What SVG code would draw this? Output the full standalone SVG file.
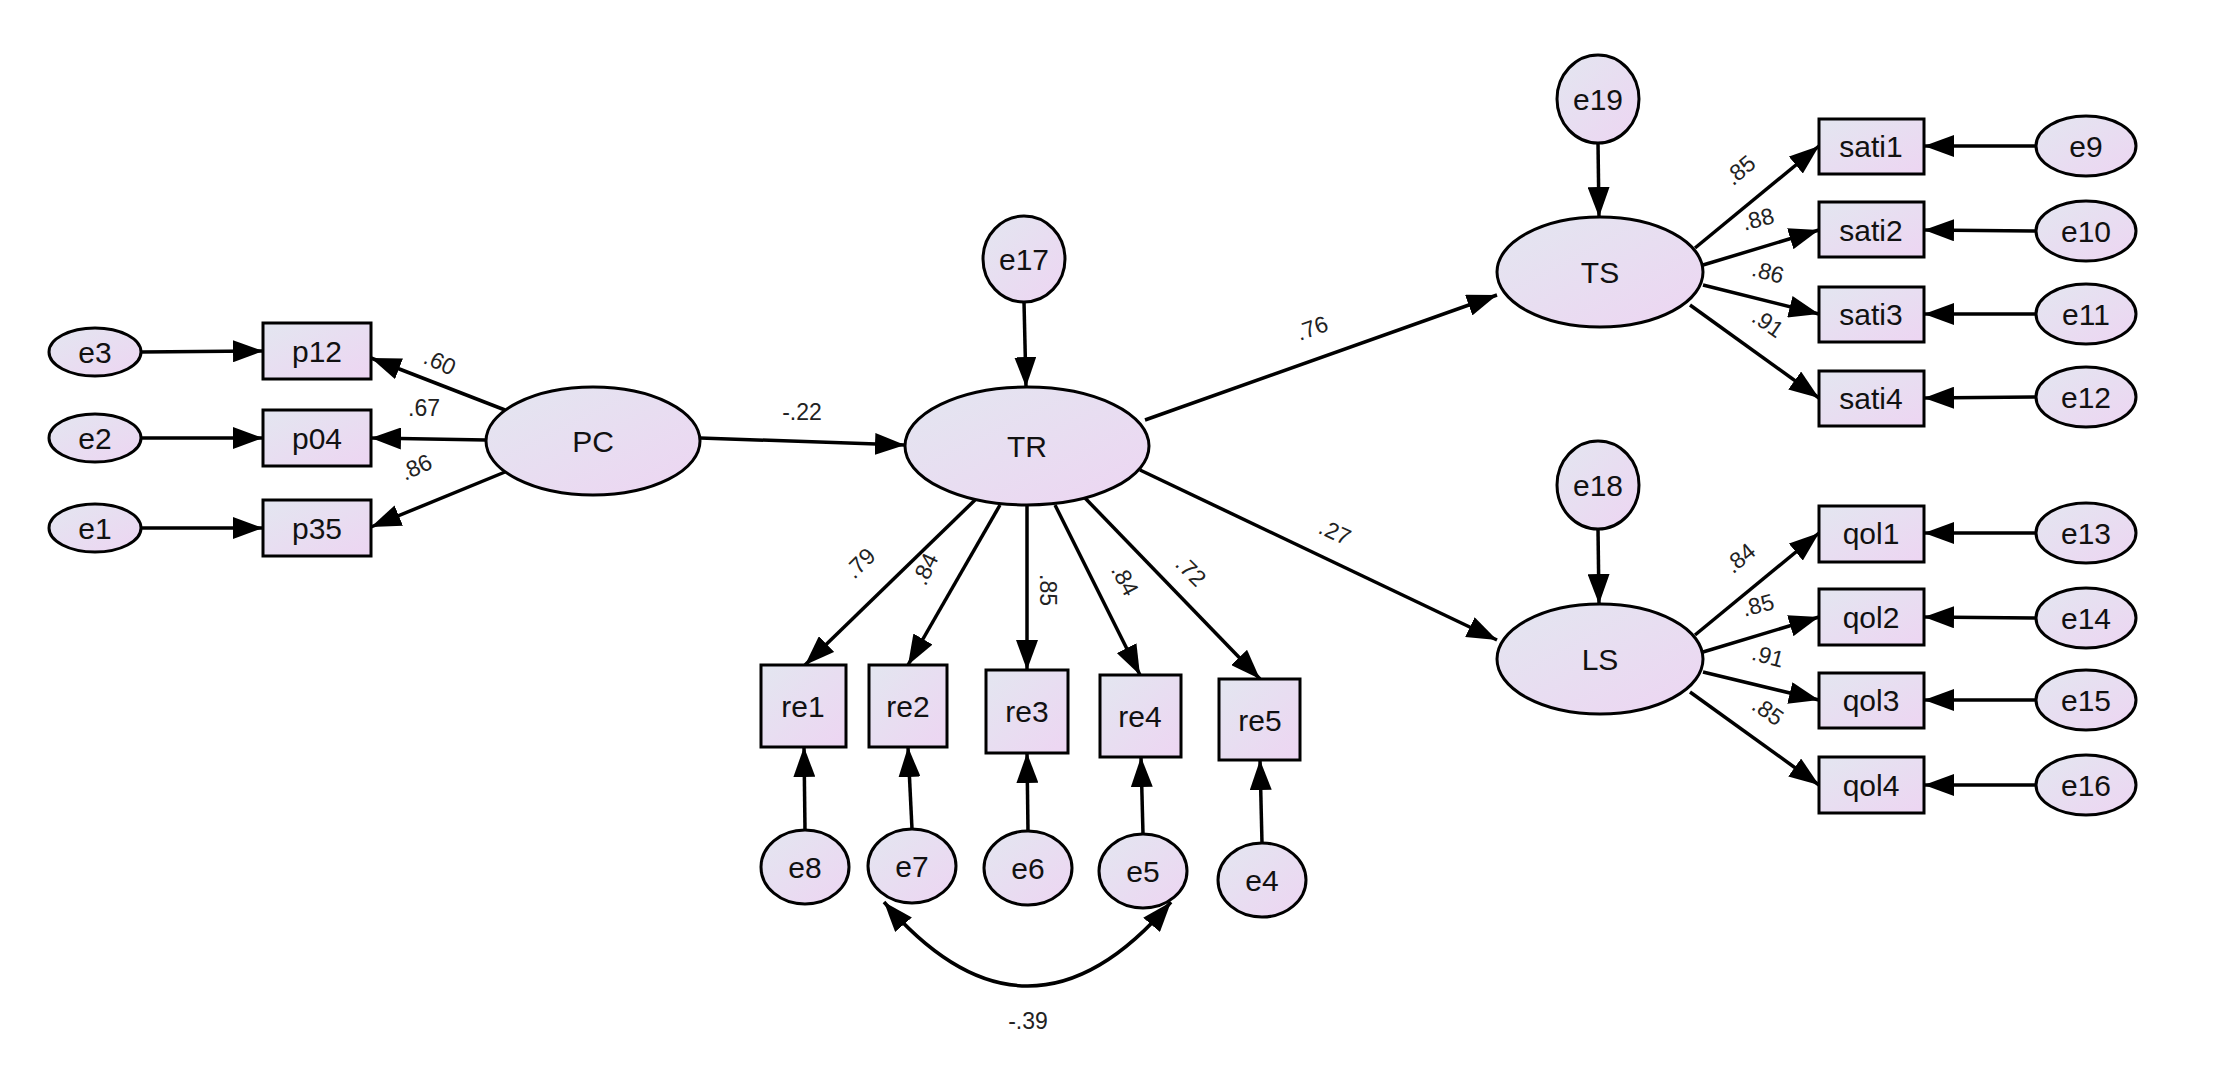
<svg xmlns="http://www.w3.org/2000/svg" width="2218" height="1070" viewBox="0 0 2218 1070">
<defs>
<linearGradient id="g" x1="0" y1="0" x2="1" y2="1"><stop offset="0" stop-color="#e3e6f0"/><stop offset="1" stop-color="#edd5f2"/></linearGradient>
<marker id="a" viewBox="0 0 30 22" refX="30" refY="11" markerWidth="30" markerHeight="22" markerUnits="userSpaceOnUse" orient="auto-start-reverse"><path d="M0,0 L30,11 L0,22 Z" fill="#000"/></marker>
<style>
.n{fill:url(#g);stroke:#000;stroke-width:3}
.t{font-family:"Liberation Sans",Arial,sans-serif;font-size:30px;fill:#111;text-anchor:middle;dominant-baseline:central}
.l{font-family:"Liberation Sans",Arial,sans-serif;font-size:23px;fill:#222;text-anchor:middle;dominant-baseline:central}
.c line,.c path{stroke:#000;stroke-width:3.5;fill:none;marker-end:url(#a)}
</style>
</defs>
<rect width="2218" height="1070" fill="#fff"/>
<g class="c" id="connectors">
<line x1="141" y1="352" x2="263" y2="351"/>
<line x1="141" y1="438" x2="263" y2="438"/>
<line x1="141" y1="528" x2="263" y2="528"/>
<line x1="505" y1="410" x2="371" y2="358"/>
<line x1="486" y1="440" x2="371" y2="438"/>
<line x1="505" y1="472" x2="371" y2="527"/>
<line x1="700" y1="438" x2="905" y2="445"/>
<line x1="1024" y1="302" x2="1026" y2="387"/>
<line x1="975" y1="500" x2="805" y2="665"/>
<line x1="1000" y1="505" x2="908" y2="665"/>
<line x1="1027" y1="505" x2="1027" y2="670"/>
<line x1="1055" y1="505" x2="1140" y2="675"/>
<line x1="1085" y1="498" x2="1260" y2="679"/>
<line x1="805" y1="830" x2="804" y2="747"/>
<line x1="912" y1="829" x2="908" y2="747"/>
<line x1="1028" y1="831" x2="1027" y2="753"/>
<line x1="1143" y1="834" x2="1141" y2="757"/>
<line x1="1262" y1="843" x2="1260" y2="760"/>
<line x1="1145" y1="420" x2="1497" y2="295"/>
<line x1="1140" y1="470" x2="1497" y2="640"/>
<line x1="1598" y1="143" x2="1599" y2="217"/>
<line x1="1598" y1="529" x2="1599" y2="604"/>
<line x1="1695" y1="248" x2="1819" y2="146"/>
<line x1="1703" y1="265" x2="1819" y2="230"/>
<line x1="1703" y1="285" x2="1819" y2="314"/>
<line x1="1690" y1="305" x2="1819" y2="398"/>
<line x1="2036" y1="146" x2="1924" y2="146"/>
<line x1="2036" y1="231" x2="1924" y2="230"/>
<line x1="2036" y1="314" x2="1924" y2="314"/>
<line x1="2036" y1="397" x2="1924" y2="398"/>
<line x1="1695" y1="635" x2="1819" y2="533"/>
<line x1="1703" y1="652" x2="1819" y2="617"/>
<line x1="1703" y1="672" x2="1819" y2="700"/>
<line x1="1690" y1="692" x2="1819" y2="785"/>
<line x1="2036" y1="533" x2="1924" y2="533"/>
<line x1="2036" y1="618" x2="1924" y2="617"/>
<line x1="2036" y1="700" x2="1924" y2="700"/>
<line x1="2036" y1="785" x2="1924" y2="785"/>
<path d="M884,902 Q1028,1070 1171,902" marker-start="url(#a)"/>
</g>
<g id="labels">
<text class="l" x="440" y="362" transform="rotate(25 440 362)">.60</text>
<text class="l" x="424" y="408">.67</text>
<text class="l" x="416" y="467" transform="rotate(-25 416 467)">.86</text>
<text class="l" x="802" y="412">-.22</text>
<text class="l" x="1312" y="328" transform="rotate(-20 1312 328)">.76</text>
<text class="l" x="1335" y="532" transform="rotate(25 1335 532)">.27</text>
<text class="l" x="860" y="563" transform="rotate(-45 860 563)">.79</text>
<text class="l" x="925" y="569" transform="rotate(-65 925 569)">.84</text>
<text class="l" x="1048" y="590" transform="rotate(90 1048 590)">.85</text>
<text class="l" x="1125" y="580" transform="rotate(62 1125 580)">.84</text>
<text class="l" x="1191" y="571" transform="rotate(45 1191 571)">.72</text>
<text class="l" x="1740" y="170" transform="rotate(-40 1740 170)">.85</text>
<text class="l" x="1758" y="219" transform="rotate(-15 1758 219)">.88</text>
<text class="l" x="1768" y="272" transform="rotate(15 1768 272)">.86</text>
<text class="l" x="1768" y="323" transform="rotate(35 1768 323)">.91</text>
<text class="l" x="1740" y="558" transform="rotate(-40 1740 558)">.84</text>
<text class="l" x="1758" y="605" transform="rotate(-15 1758 605)">.85</text>
<text class="l" x="1768" y="656" transform="rotate(15 1768 656)">.91</text>
<text class="l" x="1768" y="711" transform="rotate(35 1768 711)">.85</text>
<text class="l" x="1028" y="1021">-.39</text>
</g>
<g id="e3"><ellipse class="n" cx="95" cy="352" rx="46" ry="24"/><text class="t" x="95" y="352">e3</text></g>
<g id="e2"><ellipse class="n" cx="95" cy="438" rx="46" ry="24"/><text class="t" x="95" y="438">e2</text></g>
<g id="e1"><ellipse class="n" cx="95" cy="528" rx="46" ry="24"/><text class="t" x="95" y="528">e1</text></g>
<g id="p12"><rect class="n" x="263" y="323" width="108" height="56"/><text class="t" x="317" y="351">p12</text></g>
<g id="p04"><rect class="n" x="263" y="410" width="108" height="56"/><text class="t" x="317" y="438">p04</text></g>
<g id="p35"><rect class="n" x="263" y="500" width="108" height="56"/><text class="t" x="317" y="528">p35</text></g>
<g id="PC"><ellipse class="n" cx="593" cy="441" rx="107" ry="54"/><text class="t" x="593" y="441">PC</text></g>
<g id="TR"><ellipse class="n" cx="1027" cy="446" rx="122" ry="59"/><text class="t" x="1027" y="446">TR</text></g>
<g id="e17"><ellipse class="n" cx="1024" cy="259" rx="41" ry="43"/><text class="t" x="1024" y="259">e17</text></g>
<g id="re1"><rect class="n" x="761" y="665" width="85" height="82"/><text class="t" x="803" y="706">re1</text></g>
<g id="re2"><rect class="n" x="869" y="665" width="78" height="82"/><text class="t" x="908" y="706">re2</text></g>
<g id="re3"><rect class="n" x="986" y="670" width="82" height="83"/><text class="t" x="1027" y="711">re3</text></g>
<g id="re4"><rect class="n" x="1100" y="675" width="81" height="82"/><text class="t" x="1140" y="716">re4</text></g>
<g id="re5"><rect class="n" x="1219" y="679" width="81" height="81"/><text class="t" x="1260" y="720">re5</text></g>
<g id="e8"><ellipse class="n" cx="805" cy="867" rx="44" ry="37"/><text class="t" x="805" y="867">e8</text></g>
<g id="e7"><ellipse class="n" cx="912" cy="866" rx="44" ry="37"/><text class="t" x="912" y="866">e7</text></g>
<g id="e6"><ellipse class="n" cx="1028" cy="868" rx="44" ry="37"/><text class="t" x="1028" y="868">e6</text></g>
<g id="e5"><ellipse class="n" cx="1143" cy="871" rx="44" ry="37"/><text class="t" x="1143" y="871">e5</text></g>
<g id="e4"><ellipse class="n" cx="1262" cy="880" rx="44" ry="37"/><text class="t" x="1262" y="880">e4</text></g>
<g id="TS"><ellipse class="n" cx="1600" cy="272" rx="103" ry="55"/><text class="t" x="1600" y="272">TS</text></g>
<g id="e19"><ellipse class="n" cx="1598" cy="99" rx="41" ry="44"/><text class="t" x="1598" y="99">e19</text></g>
<g id="LS"><ellipse class="n" cx="1600" cy="659" rx="103" ry="55"/><text class="t" x="1600" y="659">LS</text></g>
<g id="e18"><ellipse class="n" cx="1598" cy="485" rx="41" ry="44"/><text class="t" x="1598" y="485">e18</text></g>
<g id="sati1"><rect class="n" x="1819" y="119" width="105" height="55"/><text class="t" x="1871" y="146">sati1</text></g>
<g id="sati2"><rect class="n" x="1819" y="202" width="105" height="55"/><text class="t" x="1871" y="230">sati2</text></g>
<g id="sati3"><rect class="n" x="1819" y="287" width="105" height="55"/><text class="t" x="1871" y="314">sati3</text></g>
<g id="sati4"><rect class="n" x="1819" y="371" width="105" height="55"/><text class="t" x="1871" y="398">sati4</text></g>
<g id="e9"><ellipse class="n" cx="2086" cy="146" rx="50" ry="30"/><text class="t" x="2086" y="146">e9</text></g>
<g id="e10"><ellipse class="n" cx="2086" cy="231" rx="50" ry="30"/><text class="t" x="2086" y="231">e10</text></g>
<g id="e11"><ellipse class="n" cx="2086" cy="314" rx="50" ry="30"/><text class="t" x="2086" y="314">e11</text></g>
<g id="e12"><ellipse class="n" cx="2086" cy="397" rx="50" ry="30"/><text class="t" x="2086" y="397">e12</text></g>
<g id="qol1"><rect class="n" x="1819" y="506" width="105" height="56"/><text class="t" x="1871" y="533">qol1</text></g>
<g id="qol2"><rect class="n" x="1819" y="589" width="105" height="56"/><text class="t" x="1871" y="617">qol2</text></g>
<g id="qol3"><rect class="n" x="1819" y="673" width="105" height="55"/><text class="t" x="1871" y="700">qol3</text></g>
<g id="qol4"><rect class="n" x="1819" y="757" width="105" height="56"/><text class="t" x="1871" y="785">qol4</text></g>
<g id="e13"><ellipse class="n" cx="2086" cy="533" rx="50" ry="30"/><text class="t" x="2086" y="533">e13</text></g>
<g id="e14"><ellipse class="n" cx="2086" cy="618" rx="50" ry="30"/><text class="t" x="2086" y="618">e14</text></g>
<g id="e15"><ellipse class="n" cx="2086" cy="700" rx="50" ry="30"/><text class="t" x="2086" y="700">e15</text></g>
<g id="e16"><ellipse class="n" cx="2086" cy="785" rx="50" ry="30"/><text class="t" x="2086" y="785">e16</text></g>
</svg>
